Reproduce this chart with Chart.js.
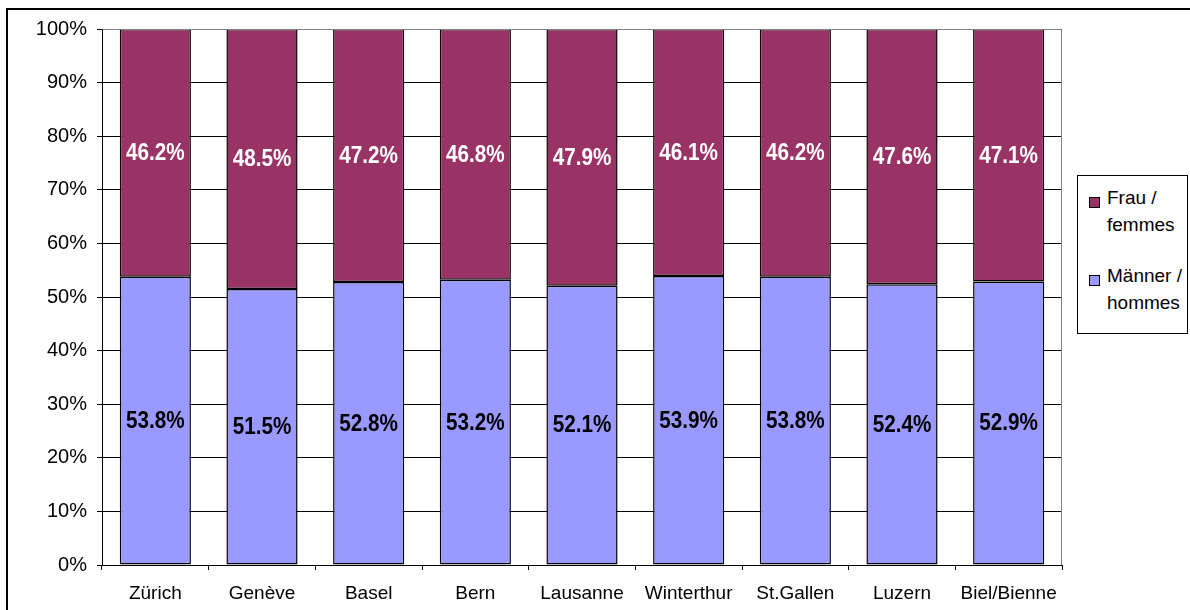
<!DOCTYPE html>
<html>
<head>
<meta charset="utf-8">
<script src="https://cdn.jsdelivr.net/npm/chart.js@4/dist/chart.umd.min.js"></script>
<style>
  html,body{margin:0;padding:0;background:#fff;}
  body{width:1190px;height:610px;position:relative;overflow:hidden;font-family:"Liberation Sans",Arial,sans-serif;}
  #frame{position:absolute;left:6px;top:8px;width:1300px;height:700px;border:2px solid #000;box-sizing:border-box;}
  #c{position:absolute;left:0;top:0;}
  #legend{position:absolute;left:1077px;top:175px;width:111px;height:159px;border:1px solid #000;box-sizing:border-box;background:#fff;}
  .sw{position:absolute;width:9px;height:9px;border:1px solid #000;}
  .lt{position:absolute;font-size:19px;line-height:27px;color:#000;white-space:nowrap;}
</style>
</head>
<body>
<div id="frame"></div>
<canvas id="c" width="1190" height="610"></canvas>
<div id="legend"></div>
<script>
const categories = ["Zürich","Genève","Basel","Bern","Lausanne","Winterthur","St.Gallen","Luzern","Biel/Bienne"];
const menValues   = [53.8, 51.5, 52.8, 53.2, 52.1, 53.9, 53.8, 52.4, 52.9];
const womenValues = [46.2, 48.5, 47.2, 46.8, 47.9, 46.1, 46.2, 47.6, 47.1];
const seriesNames = ["Männer / hommes", "Frau / femmes"];
const legendLines = [["Frau /","femmes"],["Männer /","hommes"]];
const yTicks = [0,10,20,30,40,50,60,70,80,90,100];

const FONT = '"Liberation Sans", Arial, sans-serif';
const menColor = '#9999FF';
const womenColor = '#993366';

const dataLabels = {
  id:'dataLabels',
  afterDatasetsDraw(chart){
    const ctx = chart.ctx;
    chart.data.datasets.forEach((ds, di) => {
      const meta = chart.getDatasetMeta(di);
      meta.data.forEach((bar, i) => {
        const y = (bar.y + bar.base) / 2;
        ctx.save();
        ctx.font = 'bold 23px ' + FONT;
        ctx.textAlign = 'center';
        ctx.textBaseline = 'middle';
        ctx.fillStyle = di === 0 ? '#000' : '#fff';
        ctx.translate(bar.x, y + 1);
        ctx.scale(0.9, 1);
        ctx.fillText(ds.data[i].toFixed(1) + '%', 0, 0);
        ctx.restore();
      });
    });
  }
};

const plotBorder = {
  id:'plotBorder',
  afterDraw(chart){
    const a = chart.chartArea, ctx = chart.ctx;
    ctx.save();
    ctx.strokeStyle = '#808080';
    ctx.lineWidth = 1;
    ctx.beginPath();
    ctx.moveTo(Math.round(a.left)+0.5, Math.round(a.top)+0.5);
    ctx.lineTo(Math.round(a.right)-0.5, Math.round(a.top)+0.5);
    ctx.lineTo(Math.round(a.right)-0.5, Math.round(a.bottom));
    ctx.stroke();
    ctx.restore();
  }
};

new Chart(document.getElementById('c'), {
  type:'bar',
  data:{
    labels: categories,
    datasets:[
      {label: seriesNames[0], data: menValues, backgroundColor: menColor, borderColor:'#000', borderWidth:1.5, borderSkipped:false, barPercentage:0.667, categoryPercentage:1},
      {label: seriesNames[1], data: womenValues, backgroundColor: womenColor, borderColor:'#000', borderWidth:1.5, borderSkipped:false, barPercentage:0.667, categoryPercentage:1}
    ]
  },
  options:{
    responsive:false,
    animation:false,
    devicePixelRatio:1,
    layout:{padding:{top:29,right:128,left:0,bottom:0}},
    plugins:{legend:{display:false}, tooltip:{enabled:false}},
    scales:{
      x:{
        stacked:true,
        grid:{offset:true, drawOnChartArea:false, drawTicks:true, tickLength:5, color:'#000'},
        border:{color:'#000', width:1},
        ticks:{font:{family:FONT, size:19}, color:'#000', padding:12, maxRotation:0, autoSkip:false},
        afterFit(s){ s.height = 45; }
      },
      y:{
        stacked:true, min:0, max:100,
        afterBuildTicks(s){ s.ticks = yTicks.map(v => ({value:v})); },
        grid:{color:'#000', tickLength:5},
        border:{color:'#000', width:1},
        ticks:{font:{family:FONT, size:20}, color:'#000', padding:10, callback:v => v + '%'},
        afterFit(s){ s.width = 102; }
      }
    }
  },
  plugins:[dataLabels, plotBorder]
});

// legend (HTML text)
const leg = document.getElementById('legend');
const legColors = [womenColor, menColor];
const swTops = [21, 99];
const txtTops = [8, 86];
legendLines.forEach((lines, k) => {
  const sw = document.createElement('div');
  sw.className = 'sw';
  sw.style.left = '11px';
  sw.style.top = swTops[k] + 'px';
  sw.style.background = legColors[k];
  leg.appendChild(sw);
  lines.forEach((t, j) => {
    const s = document.createElement('div');
    s.className = 'lt';
    s.style.left = '29px';
    s.style.top = (txtTops[k] + j*27) + 'px';
    s.textContent = t;
    leg.appendChild(s);
  });
});
</script>
</body>
</html>
